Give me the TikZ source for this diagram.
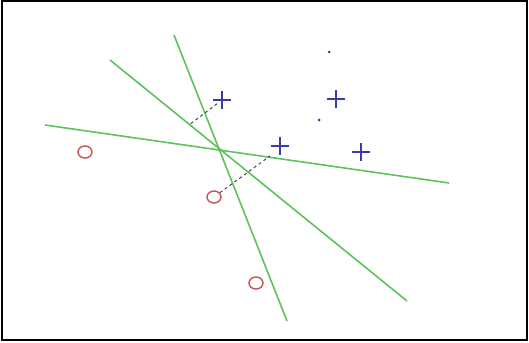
\documentclass[tikz,border=0pt]{standalone}
\usepackage{tikz}
\usetikzlibrary{shapes.geometric,shapes.misc}
\definecolor{svmgreen}{HTML}{5CC35C}
\definecolor{svmblue}{HTML}{3A3AA8}
\definecolor{svmred}{HTML}{C85A5A}
\definecolor{svmgray}{HTML}{444444}
\tikzset{%
  svmline/.style={draw=svmgreen,line width=1.6pt},
  svmplus/.style={%
    cross out,
    draw=svmblue,
    rotate=45,
    line width=1.3pt,
    minimum size=11pt,
    inner sep=0pt
  },
  svmcircle/.style={%
    ellipse,
    draw=svmred,
    line width=1.5pt,
    minimum width=14pt,
    minimum height=12pt,
    inner sep=0pt
  },
  svmdot/.style={circle,fill=svmblue,minimum size=3pt,inner sep=0pt},
  svmdash/.style={draw=svmgray,line width=1pt,dash pattern=on 3pt off 3pt}
}
\begin{document}
\begin{tikzpicture}[x=1pt,y=-1pt]
    \useasboundingbox (0,0) rectangle (529,342);
    \draw[line width=1.5pt] (2,1) rectangle (527,340);

    % separating lines
    \draw[svmline] (174,35) -- (287,321);
    \draw[svmline] (110,60) -- (407,301);
    \draw[svmline] (45,125) -- (449,183);

    % positive class
    \node[svmplus] (pa) at (222,100) {};
    \node[svmplus] (pb) at (336,99) {};
    \node[svmplus] (pc) at (280,146) {};
    \node[svmplus] (pd) at (361,152) {};
    \node[svmdot] (da) at (329,52) {};
    \node[svmdot] (db) at (319,120) {};

    % negative class
    \node[svmcircle] (na) at (85,152) {};
    \node[svmcircle] (nb) at (214,197) {};
    \node[svmcircle] (nc) at (256,283) {};

    % margins
    \coordinate (fa) at (189,125);
    \coordinate (fb) at (270,156);
    \draw[svmdash] (pa) -- (fa);
    \draw[svmdash] (nb) -- (fb);
  \end{tikzpicture}
\end{document}
